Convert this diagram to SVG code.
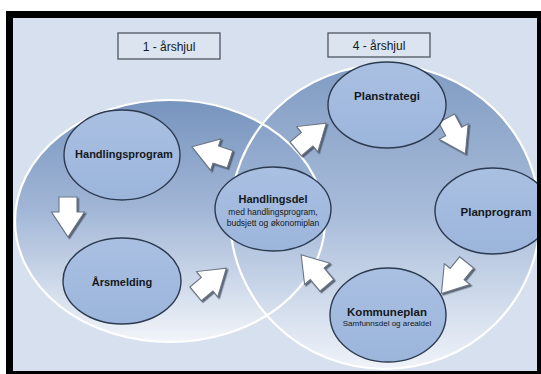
<svg xmlns="http://www.w3.org/2000/svg" width="541" height="374" viewBox="0 0 541 374">
<defs>
<style>
.node{fill:url(#nodeg);stroke:#2c3a50;stroke-width:1.4}
.t{font-family:"Liberation Sans",Arial,sans-serif;fill:#141820;text-anchor:middle}
.b{font-weight:bold}
.box{fill:#dce4f0;stroke:#58606c;stroke-width:1.4}
.rim{fill:none;stroke:#ffffff;stroke-width:2.2}
.arrow{fill:#ffffff;stroke:#6a7686;stroke-width:1.1;stroke-linejoin:miter}
</style>
<linearGradient id="leftg" x1="0" y1="0" x2="0" y2="1">
<stop offset="0" stop-color="#7794be"/>
<stop offset="0.45" stop-color="#a1b6d6"/>
<stop offset="1" stop-color="#f2f5fa"/>
</linearGradient>
<linearGradient id="rightg" x1="0" y1="0" x2="0" y2="1">
<stop offset="0" stop-color="#7794be"/>
<stop offset="0.5" stop-color="#a4b9d8"/>
<stop offset="1" stop-color="#f2f5fa"/>
</linearGradient>
<linearGradient id="nodeg" x1="0" y1="0" x2="0" y2="1">
<stop offset="0" stop-color="#a9c0e2"/>
<stop offset="1" stop-color="#9cb5db"/>
</linearGradient>
<filter id="sh" x="-30%" y="-30%" width="160%" height="160%">
<feDropShadow dx="1.5" dy="1.5" stdDeviation="0.6" flood-color="#3c4656" flood-opacity="0.8"/>
</filter>
<polygon id="arr" class="arrow" points="-20,-9 -5,-9 -5,-16.5 20,0 -5,16.5 -5,9 -20,9"/>
</defs>

<rect x="0" y="0" width="541" height="374" fill="#ffffff"/>
<rect x="6" y="11" width="535" height="363" fill="#000000"/>
<rect x="13" y="18" width="524" height="353" fill="#d6e0ee"/>

<g id="wheels">
<ellipse cx="170" cy="221" rx="155" ry="121" fill="url(#leftg)"/>
<ellipse cx="385" cy="217" rx="155" ry="152" fill="url(#rightg)" fill-opacity="0.9"/>
<ellipse class="rim" cx="170" cy="221" rx="155" ry="121"/>
<ellipse class="rim" cx="385" cy="217" rx="155" ry="152"/>
</g>

<g id="label1">
<rect class="box" x="118" y="33" width="102" height="26"/>
<text class="t" x="169" y="51" font-size="12">1 - årshjul</text>
</g>
<g id="label4">
<rect class="box" x="328" y="33" width="102" height="24"/>
<text class="t" x="379" y="50" font-size="12">4 - årshjul</text>
</g>

<g id="connectors">
<g filter="url(#sh)"><use href="#arr" transform="translate(211,153) rotate(198)"/></g>
<g filter="url(#sh)"><use href="#arr" transform="translate(68,217) rotate(90)"/></g>
<g filter="url(#sh)"><use href="#arr" transform="translate(211,281) rotate(-40)"/></g>
<g filter="url(#sh)"><use href="#arr" transform="translate(311,136) rotate(-40)"/></g>
<g filter="url(#sh)"><use href="#arr" transform="translate(456,136) rotate(62)"/></g>
<g filter="url(#sh)"><use href="#arr" transform="translate(454,278) rotate(129)"/></g>
<g filter="url(#sh)"><use href="#arr" transform="translate(314,270) rotate(230)"/></g>
</g>

<g id="handlingsprogram">
<ellipse class="node" cx="122" cy="155" rx="58" ry="45"/>
<text class="t b" x="124" y="158" font-size="11">Handlingsprogram</text>
</g>
<g id="arsmelding">
<ellipse class="node" cx="122" cy="281" rx="59" ry="43"/>
<text class="t b" x="122" y="286" font-size="11">Årsmelding</text>
</g>
<g id="handlingsdel">
<ellipse class="node" cx="273" cy="209" rx="58" ry="42"/>
<text class="t b" x="273" y="203" font-size="11">Handlingsdel</text>
<text class="t" x="273" y="215" font-size="8.5">med handlingsprogram,</text>
<text class="t" x="273" y="226" font-size="8.5">budsjett og økonomiplan</text>
</g>
<g id="planstrategi">
<ellipse class="node" cx="387" cy="105" rx="59" ry="43"/>
<text class="t b" x="387" y="100" font-size="11.5">Planstrategi</text>
</g>
<g id="planprogram">
<ellipse class="node" cx="493" cy="211" rx="58" ry="43"/>
<text class="t b" x="496" y="216" font-size="11.5">Planprogram</text>
</g>
<g id="kommuneplan">
<ellipse class="node" cx="388" cy="315" rx="58" ry="47"/>
<text class="t b" x="387" y="316" font-size="11.5">Kommuneplan</text>
<text class="t" x="387" y="326" font-size="8">Samfunnsdel og arealdel</text>
</g>

<rect x="537" y="11" width="4" height="360" fill="#000000"/>
</svg>
